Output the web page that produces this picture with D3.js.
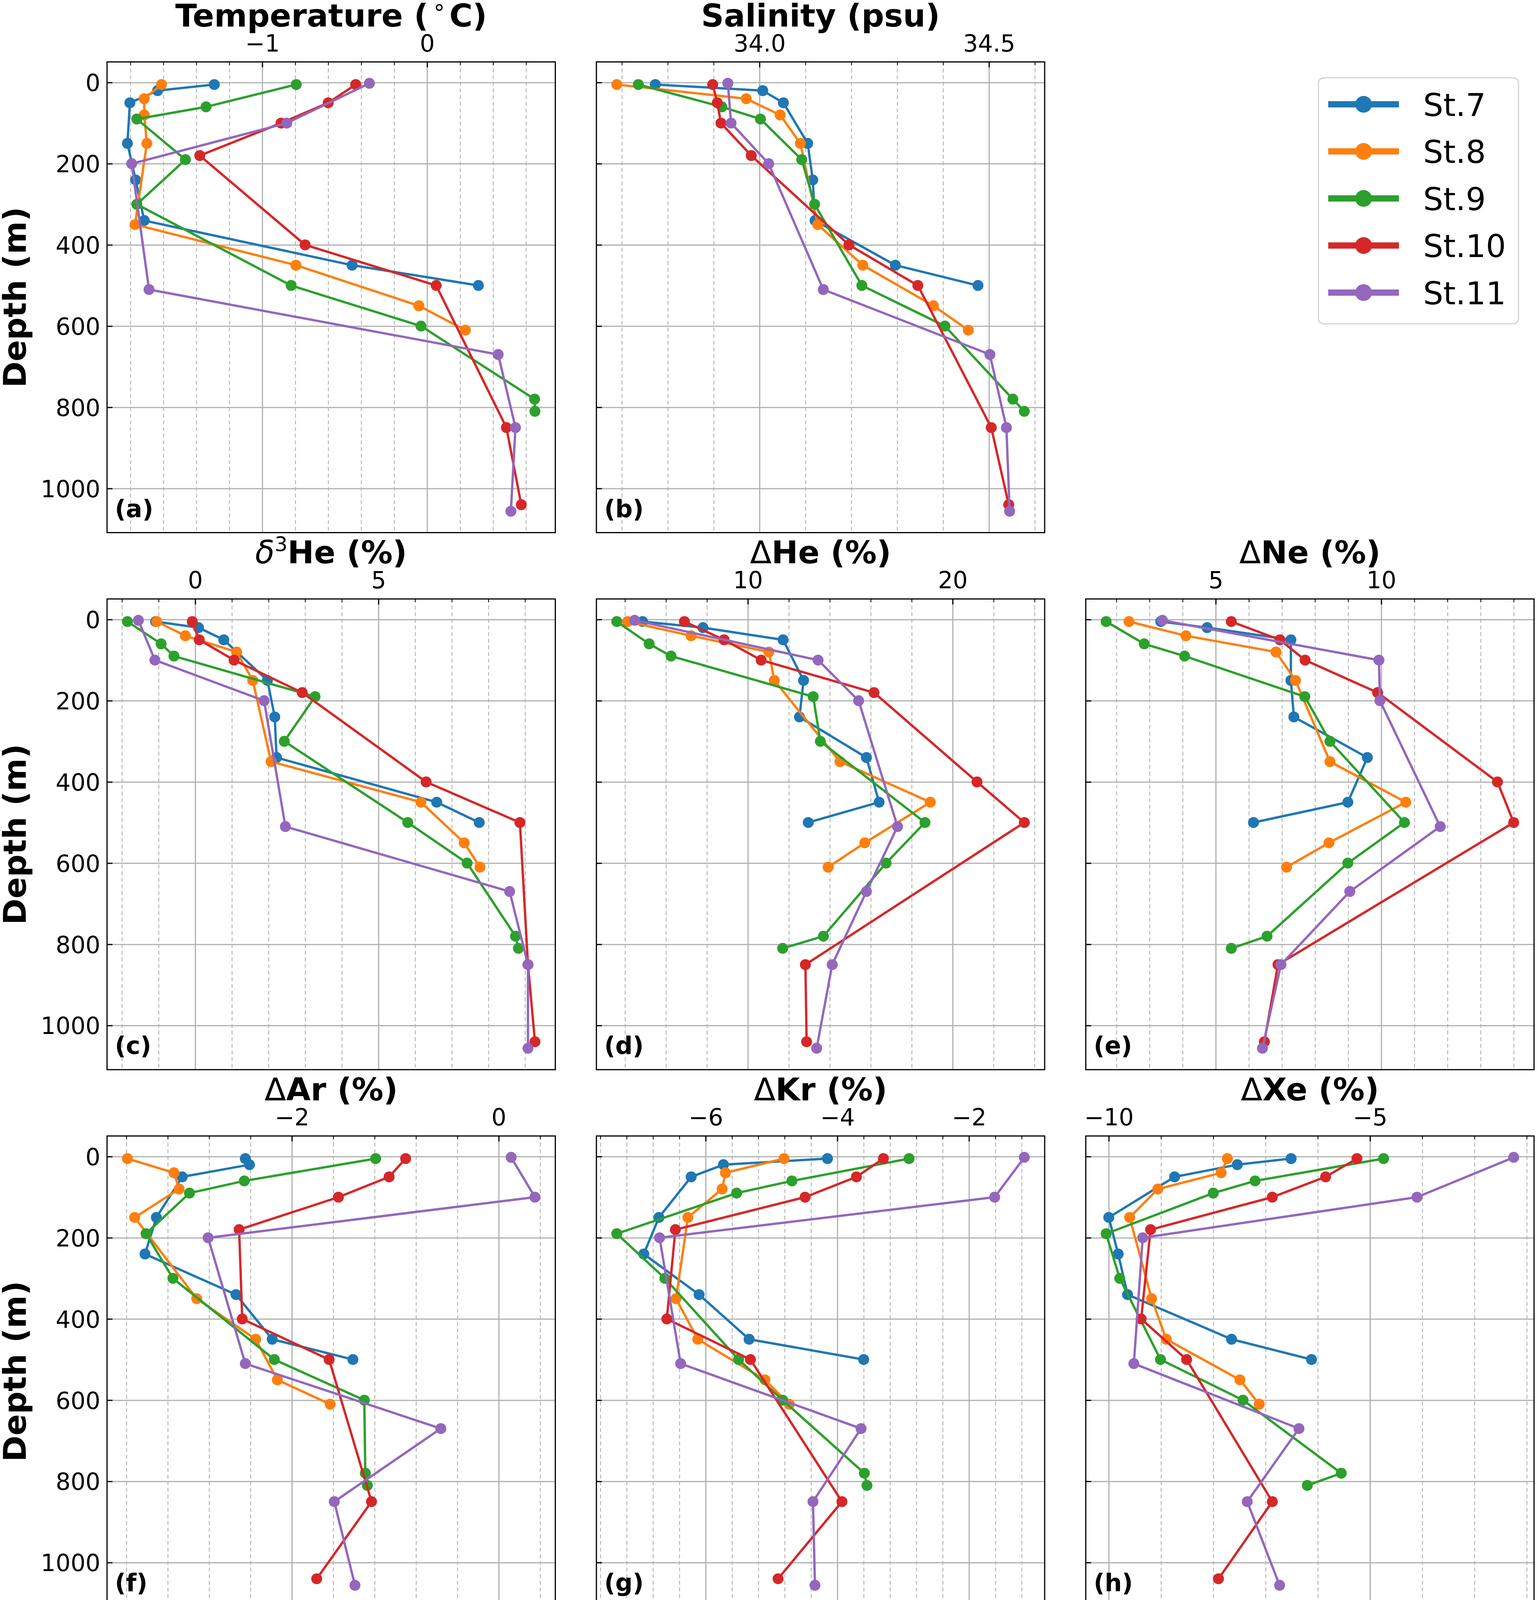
<!DOCTYPE html>
<html><head><meta charset="utf-8">
<script src="https://cdn.jsdelivr.net/npm/d3@7"></script>
<style>
html,body{margin:0;padding:0;background:#fff;overflow:hidden;}
svg{display:block;}
text{font-family:"DejaVu Sans",sans-serif;}
</style>
</head><body>
<svg id="chart" width="3937" height="4122"></svg>
<script>
// ---------- data ----------
const stations = ["St.7","St.8","St.9","St.10","St.11"];
const colors = ["#1f77b4","#ff7f0e","#2ca02c","#d62728","#9467bd"];
const depths = [
  [5,20,50,150,240,340,450,500],
  [5,40,80,150,350,450,550,610],
  [5,60,90,190,300,500,600,780,810],
  [5,50,100,180,400,500,850,1040],
  [2,100,200,510,670,850,1056]
];
const temperature = [
  [-1.291,-1.635,-1.803,-1.818,-1.768,-1.716,-0.455,0.311],
  [-1.611,-1.716,-1.716,-1.700,-1.772,-0.796,-0.050,0.232],
  [-0.794,-1.341,-1.761,-1.466,-1.761,-0.825,-0.037,0.652,0.654],
  [-0.433,-0.600,-0.886,-1.379,-0.740,0.055,0.481,0.571],
  [-0.350,-0.851,-1.792,-1.687,0.431,0.536,0.508]
];
const salinity = [
  [33.773,34.007,34.052,34.105,34.116,34.121,34.296,34.476],
  [33.689,33.971,34.045,34.089,34.127,34.225,34.379,34.455],
  [33.736,33.918,34.002,34.092,34.120,34.223,34.404,34.552,34.577],
  [33.898,33.908,33.916,33.982,34.195,34.345,34.505,34.543],
  [33.931,33.938,34.020,34.139,34.502,34.538,34.545]
];
const delta3He = [
  [-1.08,0.09,0.78,1.97,2.17,2.22,6.59,7.75],
  [-1.05,-0.27,1.13,1.57,2.07,6.16,7.34,7.77],
  [-1.85,-0.93,-0.58,3.27,2.43,5.80,7.42,8.74,8.82],
  [-0.08,0.11,1.06,2.92,6.30,8.86,9.08,9.27],
  [-1.55,-1.10,1.88,2.46,8.58,9.08,9.08]
];
const deltaHe = [
  [4.86,7.81,11.72,12.72,12.52,15.79,16.41,12.95],
  [4.13,7.23,11.03,11.29,14.50,18.91,15.71,13.92],
  [3.60,5.18,6.25,13.19,13.54,18.65,16.75,13.69,11.70],
  [6.90,8.84,10.65,16.16,21.19,23.50,12.81,12.87],
  [4.47,13.43,15.41,17.31,15.79,14.12,13.36]
];
const deltaNe = [
  [3.34,4.74,7.27,7.27,7.36,9.58,8.99,6.14],
  [2.38,4.10,6.82,7.41,8.45,10.74,8.42,7.14],
  [1.69,2.84,4.06,7.69,8.45,10.70,8.99,6.55,5.47],
  [5.47,6.94,7.70,9.89,13.51,14.00,6.88,6.47],
  [3.39,9.93,9.96,11.78,9.05,6.97,6.41]
];
const deltaAr = [
  [-2.45,-2.41,-3.06,-3.31,-3.42,-2.54,-2.19,-1.41],
  [-3.59,-3.14,-3.09,-3.52,-2.92,-2.35,-2.14,-1.63],
  [-1.19,-2.46,-2.99,-3.41,-3.15,-2.17,-1.30,-1.29,-1.27],
  [-0.90,-1.06,-1.55,-2.51,-2.48,-1.64,-1.23,-1.76],
  [0.12,0.35,-2.81,-2.45,-0.56,-1.59,-1.39]
];
const deltaKr = [
  [-4.15,-5.73,-6.22,-6.71,-6.94,-6.10,-5.34,-3.60],
  [-4.81,-5.70,-5.75,-6.27,-6.45,-6.12,-5.10,-4.73],
  [-2.91,-4.69,-5.53,-7.35,-6.62,-5.50,-4.83,-3.59,-3.55],
  [-3.30,-3.71,-4.49,-6.46,-6.59,-5.32,-3.93,-4.90],
  [-1.16,-1.61,-6.70,-6.38,-3.64,-4.37,-4.34]
];
const deltaXe = [
  [-6.51,-7.54,-8.74,-10.00,-9.82,-9.64,-7.65,-6.12],
  [-7.73,-7.85,-9.06,-9.60,-9.18,-8.90,-7.49,-7.12],
  [-4.74,-7.20,-8.00,-10.05,-9.79,-9.01,-7.43,-5.55,-6.20],
  [-5.25,-5.85,-6.87,-9.20,-9.38,-8.51,-6.87,-7.90],
  [-2.25,-4.10,-9.35,-9.52,-6.36,-7.35,-6.73]
];
const depthTicks = [0,200,400,600,800,1000];
const tempTicks = [-1,0];
const tempMinor = [-1.8,-1.6,-1.4,-1.2,-0.8,-0.6,-0.4,-0.2,0.2,0.4,0.6];
const salTicks = [34.0,34.5];
const salMinor = [33.7,33.8,33.9,34.1,34.2,34.3,34.4,34.6];
const he3Ticks = [0,5];
const he3Minor = [-2,-1,1,2,3,4,6,7,8,9];
const heTicks = [10,20];
const heMinor = [4,6,8,12,14,16,18,22,24];
const neTicks = [5,10];
const neMinor = [2,3,4,6,7,8,9,11,12,13,14];
const arTicks = [-2,0];
const arMinor = [-3.6,-3.2,-2.8,-2.4,-1.6,-1.2,-0.8,-0.4,0.4];
const krTicks = [-6,-4,-2];
const krMinor = [-7.6,-7.2,-6.8,-6.4,-5.6,-5.2,-4.8,-4.4,-3.6,-3.2,-2.8,-2.4,-1.6,-1.2];
const xeTicks = [-10,-5];
const xeMinor = [-9,-8,-7,-6,-4,-3,-2];
const panelLabels = ["(a)","(b)","(c)","(d)","(e)","(f)","(g)","(h)"];

// ---------- layout ----------
const W = 1147.5, H = 1205;
const colX = [274, 1526.7, 2779.4];
const rowY = [158.5, 1533.3, 2908.1];
const FONT_TICK = 60, FONT_TITLE = 81, FONT_PANEL = 62;

const svg = d3.select("#chart");
svg.append("rect").attr("width",3937).attr("height",4122).attr("fill","#fff");

// shared depth domain (5% margins like matplotlib autoscale)
const allD = depths.flat();
const dExt = d3.extent(allD);
const dPad = (dExt[1]-dExt[0])*0.05;
const yDomain = [dExt[0]-dPad, dExt[1]+dPad];

const panels = [
  {row:0,col:0,values:temperature,ticks:tempTicks,minor:tempMinor,fmt:d3.format("d"),
   title:[{t:"Temperature (",w:"bold"},{t:"\u2218",w:"normal",sup:true,size:57,dx:10},{t:"C)",w:"bold",dx:8}]},
  {row:0,col:1,values:salinity,ticks:salTicks,minor:salMinor,fmt:d3.format(".1f"),
   title:[{t:"Salinity (psu)",w:"bold"}]},
  {row:1,col:0,values:delta3He,ticks:he3Ticks,minor:he3Minor,fmt:d3.format("d"),
   title:[{t:"\u03b4",w:"normal",it:true},{t:"3",w:"normal",sup:true,size:52},{t:"He (%)",w:"bold"}]},
  {row:1,col:1,values:deltaHe,ticks:heTicks,minor:heMinor,fmt:d3.format("d"),
   title:[{t:"\u0394",w:"normal"},{t:"He (%)",w:"bold"}]},
  {row:1,col:2,values:deltaNe,ticks:neTicks,minor:neMinor,fmt:d3.format("d"),
   title:[{t:"\u0394",w:"normal"},{t:"Ne (%)",w:"bold"}]},
  {row:2,col:0,values:deltaAr,ticks:arTicks,minor:arMinor,fmt:d3.format("d"),
   title:[{t:"\u0394",w:"normal"},{t:"Ar (%)",w:"bold"}]},
  {row:2,col:1,values:deltaKr,ticks:krTicks,minor:krMinor,fmt:d3.format("d"),
   title:[{t:"\u0394",w:"normal"},{t:"Kr (%)",w:"bold"}]},
  {row:2,col:2,values:deltaXe,ticks:xeTicks,minor:xeMinor,fmt:d3.format("d"),
   title:[{t:"\u0394",w:"normal"},{t:"Xe (%)",w:"bold"}]}
];

panels.forEach((p,i)=>{
  const x0 = colX[p.col], y0 = rowY[p.row];
  const vExt = d3.extent(p.values.flat());
  const vPad = (vExt[1]-vExt[0])*0.05;
  const x = d3.scaleLinear().domain([vExt[0]-vPad, vExt[1]+vPad]).range([0, W]);
  const y = d3.scaleLinear().domain(yDomain).range([0, H]);

  const g = svg.append("g").attr("transform",`translate(${x0},${y0})`);

  // minor x grid (dashed)
  g.append("g").call(d3.axisTop(x).tickValues(p.minor).tickSize(-H).tickFormat(""))
    .call(a=>a.select(".domain").remove())
    .call(a=>a.selectAll("line").attr("stroke","#b8b8b8").attr("stroke-width",2.5).attr("stroke-dasharray","10,7"));
  // major x grid
  g.append("g").call(d3.axisTop(x).tickValues(p.ticks).tickSize(-H).tickFormat(""))
    .call(a=>a.select(".domain").remove())
    .call(a=>a.selectAll("line").attr("stroke","#b0b0b0").attr("stroke-width",3));
  // major y grid
  g.append("g").call(d3.axisLeft(y).tickValues(depthTicks).tickSize(-W).tickFormat(""))
    .call(a=>a.select(".domain").remove())
    .call(a=>a.selectAll("line").attr("stroke","#b0b0b0").attr("stroke-width",3));

  // minor top ticks
  g.append("g").call(d3.axisTop(x).tickValues(p.minor).tickSize(-8).tickFormat(""))
    .call(a=>a.select(".domain").remove())
    .call(a=>a.selectAll("line").attr("stroke","#000").attr("stroke-width",2));
  // major top ticks + labels
  g.append("g").call(d3.axisTop(x).tickValues(p.ticks).tickSize(-14).tickPadding(27).tickFormat(p.fmt))
    .call(a=>a.select(".domain").remove())
    .call(a=>a.selectAll("line").attr("stroke","#000").attr("stroke-width",3))
    .call(a=>a.selectAll("text").attr("font-size",FONT_TICK).attr("font-family","DejaVu Sans").attr("fill","#000"));
  // left ticks (+labels on first column)
  g.append("g").call(d3.axisLeft(y).tickValues(depthTicks).tickSize(-14).tickPadding(17)
      .tickFormat(p.col===0 ? d3.format("d") : ""))
    .call(a=>a.select(".domain").remove())
    .call(a=>a.selectAll("line").attr("stroke","#000").attr("stroke-width",3))
    .call(a=>a.selectAll("text").attr("font-size",FONT_TICK).attr("font-family","DejaVu Sans").attr("fill","#000").attr("dy","0.36em"));

  // series
  const line = d3.line().x(d=>x(d[0])).y(d=>y(d[1]));
  stations.forEach((s,k)=>{
    const pts = p.values[k].map((v,j)=>[v, depths[k][j]]);
    const sg = g.append("g");
    sg.append("path").attr("d",line(pts)).attr("fill","none").attr("stroke",colors[k])
      .attr("stroke-width",6).attr("stroke-linejoin","round").attr("stroke-linecap","square");
    sg.selectAll("circle").data(pts).join("circle")
      .attr("cx",d=>x(d[0])).attr("cy",d=>y(d[1])).attr("r",14).attr("fill",colors[k]);
  });

  // frame
  g.append("rect").attr("width",W).attr("height",H).attr("fill","none").attr("stroke","#000").attr("stroke-width",3);

  // panel label
  g.append("text").attr("x",20).attr("y",H-40).attr("font-size",FONT_PANEL).attr("font-weight","bold")
    .attr("fill","#000").text(panelLabels[i]);

  // title
  const t = g.append("text").attr("x",W/2).attr("y",-91).attr("text-anchor","middle")
    .attr("font-size",FONT_TITLE).attr("fill","#000");
  p.title.forEach((seg,si)=>{
    const ts = t.append("tspan").text(seg.t).attr("font-weight",seg.w);
    if (seg.it) ts.attr("font-style","italic");
    if (seg.sup) { ts.attr("font-size",seg.size).attr("dy",-31); }
    else if (si>0 && p.title[si-1].sup) { ts.attr("dy",31); }
    if (seg.dx) ts.attr("dx",seg.dx);
  });

  // y label
  if (p.col===0){
    svg.append("text").attr("transform",`translate(66,${y0+H/2}) rotate(-90)`)
      .attr("text-anchor","middle").attr("font-size",FONT_TITLE).attr("font-weight","bold")
      .attr("fill","#000").text("Depth (m)");
  }
});

// ---------- legend ----------
const lg = svg.append("g");
lg.append("rect").attr("x",3375).attr("y",199).attr("width",512).attr("height",630)
  .attr("rx",14).attr("ry",14).attr("fill","#fff").attr("fill-opacity",0.8)
  .attr("stroke","#d3d3d3").attr("stroke-width",3);
const legY = d3.scalePoint().domain(stations).range([267,749]);
stations.forEach((s,k)=>{
  const cy = legY(s);
  lg.append("line").attr("x1",3400).attr("x2",3581).attr("y1",cy).attr("y2",cy)
    .attr("stroke",colors[k]).attr("stroke-width",16);
  lg.append("circle").attr("cx",3490.5).attr("cy",cy).attr("r",21.5).attr("fill",colors[k]);
  lg.append("text").attr("x",3643).attr("y",cy+29.5).attr("font-size",81).attr("fill","#000").text(s);
});
</script>
</body></html>
